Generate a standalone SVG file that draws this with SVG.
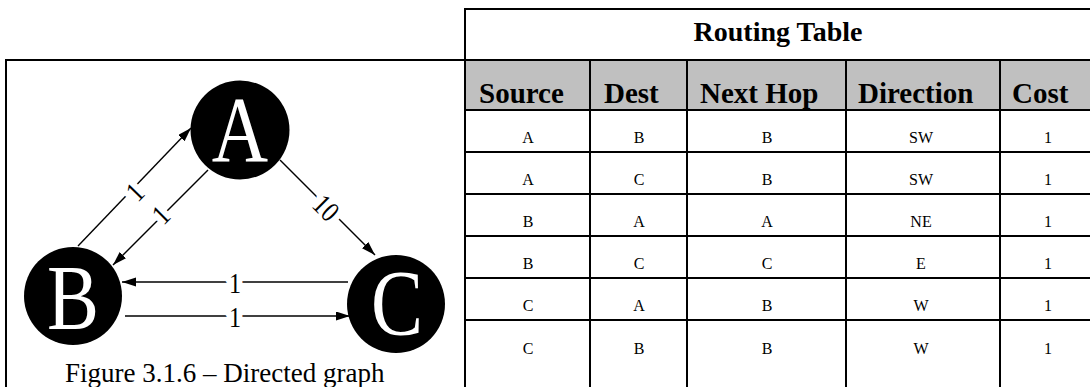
<svg xmlns="http://www.w3.org/2000/svg" width="1090" height="387" viewBox="0 0 1090 387">
<style>
.frame{stroke:#000;stroke-width:2;fill:none}
.edge{stroke:#000;stroke-width:1.4;fill:none;marker-end:url(#arr)}
.node{fill:#000}
.nlab{font-family:"Liberation Serif","Times New Roman",serif;font-size:78px;fill:#fff;text-anchor:middle}
.elab{font-family:"Liberation Serif","Times New Roman",serif;font-size:24px;fill:#000;text-anchor:middle;stroke:#fff;stroke-width:12px;paint-order:stroke;stroke-linejoin:round}
.cap{font-family:"Liberation Serif","Times New Roman",serif;font-size:27px;fill:#000}
.title{font-family:"Liberation Serif","Times New Roman",serif;font-size:28px;font-weight:bold;fill:#000;text-anchor:middle}
.hd{font-family:"Liberation Serif","Times New Roman",serif;font-size:29px;font-weight:bold;fill:#000}
.cell{font-family:"Liberation Serif","Times New Roman",serif;font-size:16px;fill:#000;text-anchor:middle}
</style>
<defs>
<marker id="arr" markerUnits="userSpaceOnUse" markerWidth="15" markerHeight="10" refX="14" refY="4.5" orient="auto">
<path d="M0,0 L14,4.5 L0,9 z" fill="#000"/>
</marker>
</defs>
<rect x="0" y="0" width="1090" height="387" fill="#fff"/>

<g id="graph-frame">
<line class="frame" x1="6" y1="60" x2="465" y2="60"/>
<line class="frame" x1="6" y1="59" x2="6" y2="387"/>
</g>

<g id="connectors">
<line class="edge" x1="78" y1="246" x2="191" y2="128"/>
<line class="edge" x1="208" y1="170" x2="113" y2="265"/>
<line class="edge" x1="280" y1="160" x2="375" y2="255"/>
<line class="edge" x1="348" y1="282" x2="122" y2="282"/>
<line class="edge" x1="125" y1="316" x2="350" y2="316"/>
<text class="elab" transform="translate(135,192) rotate(-46) scale(1,1.2)" x="0" y="8">1</text>
<text class="elab" transform="translate(161,215) rotate(-45) scale(1,1.2)" x="0" y="8">1</text>
<text class="elab" transform="translate(326,208) rotate(45) scale(1,1.2)" x="0" y="8">10</text>
<text class="elab" transform="translate(235,283) scale(1,1.2)" x="0" y="8">1</text>
<text class="elab" transform="translate(235,317) scale(1,1.2)" x="0" y="8">1</text>
</g>

<g id="node-A">
<circle class="node" cx="240" cy="130" r="49.5"/>
<text class="nlab" transform="translate(240,161) scale(1,1.2)" x="0" y="0">A</text>
</g>
<g id="node-B">
<circle class="node" cx="73" cy="296" r="49"/>
<text class="nlab" transform="translate(73,329) scale(1,1.2)" x="0" y="0">B</text>
</g>
<g id="node-C">
<circle class="node" cx="396" cy="304" r="49"/>
<text class="nlab" transform="translate(397,334) scale(1,1.2)" x="0" y="0">C</text>
</g>

<g id="caption">
<text class="cap" x="65" y="382">Figure 3.1.6 – Directed graph</text>
</g>

<g id="routing-table">
<rect x="466" y="61" width="624" height="48" fill="#c0c0c0"/>
<line class="frame" x1="465" y1="9" x2="1090" y2="9"/>
<line class="frame" x1="465" y1="8" x2="465" y2="387"/>
<line class="frame" x1="465" y1="60" x2="1090" y2="60"/>
<line class="frame" x1="465" y1="110" x2="1090" y2="110"/>
<line class="frame" x1="590" y1="60" x2="590" y2="387"/>
<line class="frame" x1="687" y1="60" x2="687" y2="387"/>
<line class="frame" x1="846" y1="60" x2="846" y2="387"/>
<line class="frame" x1="1000" y1="60" x2="1000" y2="387"/>
<line class="frame" x1="465" y1="152" x2="1090" y2="152"/>
<line class="frame" x1="465" y1="194" x2="1090" y2="194"/>
<line class="frame" x1="465" y1="236" x2="1090" y2="236"/>
<line class="frame" x1="465" y1="278" x2="1090" y2="278"/>
<line class="frame" x1="465" y1="320" x2="1090" y2="320"/>
<text class="title" x="778" y="41">Routing Table</text>
<text class="hd" x="479" y="103">Source</text>
<text class="hd" x="604" y="103">Dest</text>
<text class="hd" x="700" y="103">Next Hop</text>
<text class="hd" x="858" y="103">Direction</text>
<text class="hd" x="1012" y="103">Cost</text>
<g>
<text class="cell" x="528" y="143">A</text><text class="cell" x="639" y="143">B</text><text class="cell" x="767" y="143">B</text><text class="cell" x="921" y="143">SW</text><text class="cell" x="1048" y="143">1</text>
<text class="cell" x="528" y="185">A</text><text class="cell" x="639" y="185">C</text><text class="cell" x="767" y="185">B</text><text class="cell" x="921" y="185">SW</text><text class="cell" x="1048" y="185">1</text>
<text class="cell" x="528" y="227">B</text><text class="cell" x="639" y="227">A</text><text class="cell" x="767" y="227">A</text><text class="cell" x="921" y="227">NE</text><text class="cell" x="1048" y="227">1</text>
<text class="cell" x="528" y="269">B</text><text class="cell" x="639" y="269">C</text><text class="cell" x="767" y="269">C</text><text class="cell" x="921" y="269">E</text><text class="cell" x="1048" y="269">1</text>
<text class="cell" x="528" y="311">C</text><text class="cell" x="639" y="311">A</text><text class="cell" x="767" y="311">B</text><text class="cell" x="921" y="311">W</text><text class="cell" x="1048" y="311">1</text>
<text class="cell" x="528" y="354">C</text><text class="cell" x="639" y="354">B</text><text class="cell" x="767" y="354">B</text><text class="cell" x="921" y="354">W</text><text class="cell" x="1048" y="354">1</text>
</g>
</g>
</svg>
